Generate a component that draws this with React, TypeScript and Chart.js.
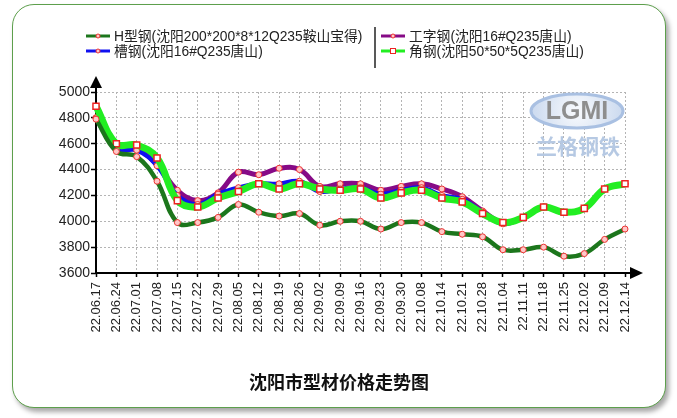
import { useEffect, useRef } from 'react'
import { Chart, registerables } from 'chart.js'

Chart.register(...registerables)

// weekly dates
const labels = [
  '22.06.17', '22.06.24', '22.07.01', '22.07.08', '22.07.15', '22.07.22', '22.07.29',
  '22.08.05', '22.08.12', '22.08.19', '22.08.26', '22.09.02', '22.09.09', '22.09.16',
  '22.09.23', '22.09.30', '22.10.08', '22.10.14', '22.10.21', '22.10.28', '22.11.04',
  '22.11.11', '22.11.18', '22.11.25', '22.12.02', '22.12.09', '22.12.14',
]

// prices, yuan/t
const hBeam = [4790, 4540, 4500, 4310, 3990, 3990, 4030, 4130, 4070, 4040, 4060, 3970, 4000, 4000,
  3940, 3990, 3990, 3920, 3900, 3880, 3780, 3780, 3800, 3730, 3750, 3860, 3940]
const iBeam = [4800, 4570, 4560, 4440, 4240, 4160, 4220, 4380, 4360, 4410, 4400, 4270, 4290, 4290,
  4240, 4270, 4290, 4250, 4190, 4080, 3990, 4030, 4110, 4070, 4100, 4250, 4290]
const channel = [4800, 4560, 4550, 4430, 4200, 4130, 4210, 4260, 4290, 4290, 4310, 4230, 4250, 4260,
  4210, 4240, 4260, 4200, 4170, 4070, 3980, 4030, 4110, 4070, 4100, 4250, 4290]
const angle = [4890, 4600, 4590, 4490, 4160, 4110, 4180, 4230, 4290, 4250, 4290, 4250, 4240, 4250,
  4180, 4220, 4240, 4180, 4150, 4060, 3990, 4030, 4110, 4070, 4100, 4250, 4290]

const yMin = 3600
const yMax = 5000
const yStep = 200

const names = {
  h: 'H型钢(沈阳200*200*8*12Q235鞍山宝得)',
  i: '工字钢(沈阳16#Q235唐山)',
  c: '槽钢(沈阳16#Q235唐山)',
  a: '角钢(沈阳50*50*5Q235唐山)',
}
const title = '沈阳市型材价格走势图'

// legend slots: [label, column x, row y]
const legendSlots: [string, number, number][] = [
  [names.h, 86, 36],
  [names.c, 86, 51],
  [names.i, 381, 36],
  [names.a, 381, 51],
]

const decor = {
  id: 'decor',
  beforeDatasetsDraw(chart: any) {
    const { ctx, chartArea: a } = chart
    ctx.save()
    // watermark
    const g = ctx.createRadialGradient(577, 111, 5, 577, 111, 48)
    g.addColorStop(0, '#f4f7fc')
    g.addColorStop(1, '#c9d8ee')
    ctx.beginPath()
    ctx.ellipse(577, 111, 46, 17, 0, 0, Math.PI * 2)
    ctx.fillStyle = g
    ctx.fill()
    ctx.lineWidth = 3
    ctx.strokeStyle = '#a9c0e2'
    ctx.stroke()
    ctx.font = 'bold 25px "Liberation Sans"'
    ctx.textAlign = 'center'
    ctx.textBaseline = 'middle'
    ctx.fillStyle = '#8e8e8e'
    ctx.fillText('LGMI', 577, 112)
    ctx.font = 'bold 21px "Noto Sans CJK SC"'
    ctx.fillStyle = '#b6c9e3'
    ctx.fillText('兰格钢铁', 578, 146)

    // axes with arrows
    ctx.strokeStyle = '#000'
    ctx.fillStyle = '#000'
    ctx.lineWidth = 2
    ctx.beginPath()
    ctx.moveTo(a.left, a.bottom + 1)
    ctx.lineTo(a.left, a.top - 8)
    ctx.moveTo(a.left - 1, a.bottom)
    ctx.lineTo(a.right + 6, a.bottom)
    ctx.stroke()
    ctx.beginPath()
    ctx.moveTo(a.left, a.top - 16)
    ctx.lineTo(a.left - 6, a.top - 4)
    ctx.lineTo(a.left + 6, a.top - 4)
    ctx.closePath()
    ctx.fill()
    ctx.beginPath()
    ctx.moveTo(a.right + 18, a.bottom)
    ctx.lineTo(a.right + 5, a.bottom - 6)
    ctx.lineTo(a.right + 5, a.bottom + 6)
    ctx.closePath()
    ctx.fill()
    ctx.restore()
  },
  afterDraw(chart: any) {
    const { ctx } = chart
    ctx.save()
    ctx.textBaseline = 'middle'
    ctx.textAlign = 'left'
    ctx.font = '13.8px "Liberation Sans", "Noto Sans CJK SC"'
    for (const [label, x, y] of legendSlots) {
      const ds = chart.data.datasets.find((d: any) => d.label === label)
      ctx.strokeStyle = ds.borderColor
      ctx.lineWidth = 3
      ctx.beginPath()
      ctx.moveTo(x, y)
      ctx.lineTo(x + 24, y)
      ctx.stroke()
      ctx.lineWidth = 1
      ctx.strokeStyle = ds.pointBorderColor
      ctx.fillStyle = ds.pointBackgroundColor
      if (ds.pointStyle === 'rect') {
        ctx.fillRect(x + 9.5, y - 2.5, 5, 5)
        ctx.strokeRect(x + 9.5, y - 2.5, 5, 5)
      } else {
        ctx.beginPath()
        ctx.arc(x + 12, y, 2, 0, Math.PI * 2)
        ctx.fill()
        ctx.stroke()
      }
      ctx.fillStyle = '#222'
      ctx.fillText(label, x + 28, y + 1)
    }
    // separator between legend columns
    ctx.strokeStyle = '#222'
    ctx.lineWidth = 1.5
    ctx.beginPath()
    ctx.moveTo(375, 27)
    ctx.lineTo(375, 68)
    ctx.stroke()
    // title
    ctx.font = 'bold 18px "Noto Sans CJK SC"'
    ctx.textAlign = 'center'
    ctx.fillStyle = '#111'
    ctx.fillText(title, 339, 382)
    ctx.restore()
  },
}

export default function App() {
  const ref = useRef<HTMLCanvasElement | null>(null)
  useEffect(() => {
    if (!ref.current) return
    const circle = { pointStyle: 'circle', pointRadius: 3, pointBorderWidth: 1, pointBorderColor: '#e33', pointBackgroundColor: '#ffc8c8' }
    const chart = new Chart(ref.current, {
      type: 'line',
      data: {
        labels,
        datasets: [
          { label: names.h, data: hBeam, borderColor: '#1c761c', borderWidth: 4.5, ...circle },
          {
            label: names.a, data: angle, borderColor: '#22ee22', borderWidth: 7,
            pointStyle: 'rect', pointRadius: 4.3, pointBorderWidth: 1.5, pointBorderColor: '#e22', pointBackgroundColor: '#fff',
          },
          { label: names.c, data: channel, borderColor: '#1010f0', borderWidth: 4.5, ...circle },
          { label: names.i, data: iBeam, borderColor: '#860a86', borderWidth: 5, ...circle },
        ] as any,
      },
      options: {
        responsive: false,
        animation: false,
        layout: { padding: { top: 92, right: 52, left: 10, bottom: 0 } },
        elements: { line: { tension: 0.4 } },
        plugins: { legend: { display: false }, title: { display: false }, tooltip: { enabled: false } },
        scales: {
          x: {
            offset: false,
            afterFit: (s: any) => { s.height = 145 },
            grid: { color: '#b4b4b4', lineWidth: 1, tickLength: 4, tickColor: '#000', tickWidth: 1.5 },
            border: { display: false, dash: [2, 2] },
            ticks: {
              autoSkip: false, minRotation: 90, maxRotation: 90, padding: 5,
              color: '#222', font: { family: '"Liberation Sans", Arial', size: 13 },
            },
          },
          y: {
            min: yMin,
            max: yMax,
            afterFit: (s: any) => { s.width = 86 },
            grid: { color: '#b4b4b4', lineWidth: 1, tickLength: 5, tickColor: '#000', tickWidth: 1.5 },
            border: { display: false, dash: [2, 2] },
            ticks: {
              stepSize: yStep, padding: 1,
              callback: (v: any) => String(v),
              color: '#222', font: { family: '"Liberation Sans", Arial', size: 14 },
            },
          },
        },
      },
      plugins: [decor],
    })
    return () => chart.destroy()
  }, [])
  return (
    <div style={{ position: 'fixed', left: 0, top: 0, width: 677, height: 418, background: '#fff' }}>
      <div style={{
        position: 'absolute', left: 12, top: 4, width: 654, height: 404, boxSizing: 'border-box',
        border: '1.5px solid #5d9f4c', borderRadius: 22, boxShadow: '3px 4px 5px rgba(0,0,0,0.35)', background: '#fff',
      }} />
      <canvas ref={ref} width={677} height={418} style={{ position: 'absolute', left: 0, top: 0 }} />
    </div>
  )
}
